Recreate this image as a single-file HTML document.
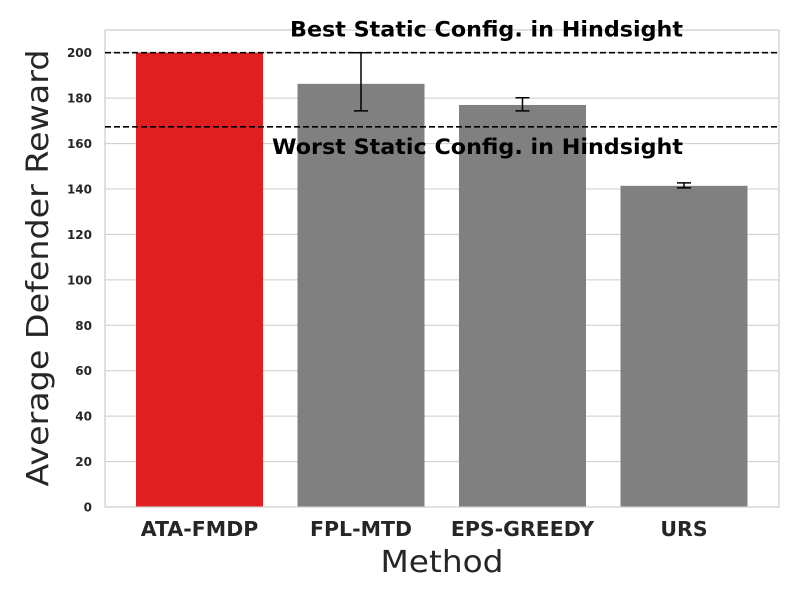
<!DOCTYPE html>
<html><head><meta charset="utf-8"><style>body{margin:0;background:#fff}svg{font-family:"DejaVu Sans","Liberation Sans",sans-serif}</style></head>
<body>
<svg id="chart" width="800" height="600" xmlns="http://www.w3.org/2000/svg"></svg>
<script>
const categories = ["ATA-FMDP","FPL-MTD","EPS-GREEDY","URS"];
const values = [200, 186.3, 177, 141.4];
const errLow = [200, 174.4, 174.4, 140.5];
const errHigh = [200, 200, 180.2, 142.7];
const yTicks = [0,20,40,60,80,100,120,140,160,180,200];
const bestLine = 200;
const worstLine = 167.4;
const colors = ["#e02020","#808080","#808080","#808080"];

const NS="http://www.w3.org/2000/svg";
const svg=document.getElementById('chart');
const L=105,R=779,T=30,B=507;
const y=v=>B-(B-T)*v/210;
const x=i=>199.5+161.5*i;
const bw=127;
function mk(t,a,p){const e=document.createElementNS(NS,t);for(const k in a)e.setAttribute(k,a[k]);(p||svg).appendChild(e);return e;}

yTicks.forEach(t=>{
  const g=mk('line',{x1:L,x2:R,y1:y(t),y2:y(t),stroke:'#cccccc','stroke-width':1});
  
  
  const tx=mk('text',{x:L-13,y:y(t)+4.5,'text-anchor':'end','font-size':12,'font-weight':'bold',fill:'#262626'});
  tx.textContent=t;
  
  
});
categories.forEach((c,i)=>{
  const r=mk('rect',{x:x(i)-bw/2,y:y(values[i]),width:bw,height:B-y(values[i]),fill:colors[i]});
  
  
  if(errHigh[i]-errLow[i]>0.01){
    const e=mk('path',{d:`M${x(i)},${y(errLow[i])}V${y(errHigh[i])}M${x(i)-7},${y(errLow[i])}H${x(i)+7}M${x(i)-7},${y(errHigh[i])}H${x(i)+7}`,stroke:'#000','stroke-width':1.5,fill:'none'});
    
    
  }
  const tx=mk('text',{x:x(i),y:536,'text-anchor':'middle','font-size':20.5,'font-weight':'bold',fill:'#262626'});
  tx.textContent=c;
  
  
});
const fr=mk('rect',{x:L,y:T,width:R-L,height:B-T,fill:'none',stroke:'#cccccc','stroke-width':1.2});


[[bestLine,'best-line'],[worstLine,'worst-line']].forEach(([v,n])=>{
  const l=mk('line',{x1:L,x2:R,y1:y(v),y2:y(v),stroke:'#000','stroke-width':1.6,'stroke-dasharray':'6,3'});
  
  
});
const t1=mk('text',{x:683,y:y(bestLine)-16,'text-anchor':'end','font-size':21,'font-weight':'bold',fill:'#000',textLength:393,lengthAdjust:'spacingAndGlyphs'});
t1.textContent='Best Static Config. in Hindsight';


const t2=mk('text',{x:683,y:y(worstLine)+27,'text-anchor':'end','font-size':21,'font-weight':'bold',fill:'#000',textLength:411,lengthAdjust:'spacingAndGlyphs'});
t2.textContent='Worst Static Config. in Hindsight';


const xl=mk('text',{x:442,y:572,'text-anchor':'middle','font-size':30,fill:'#262626',textLength:123,lengthAdjust:'spacingAndGlyphs'});
xl.textContent='Method';


const yl=mk('text',{x:0,y:0,'text-anchor':'middle','font-size':30,fill:'#262626',transform:'translate(48,268) rotate(-90)',textLength:437,lengthAdjust:'spacingAndGlyphs'});
yl.textContent='Average Defender Reward';


</script>
</body></html>
